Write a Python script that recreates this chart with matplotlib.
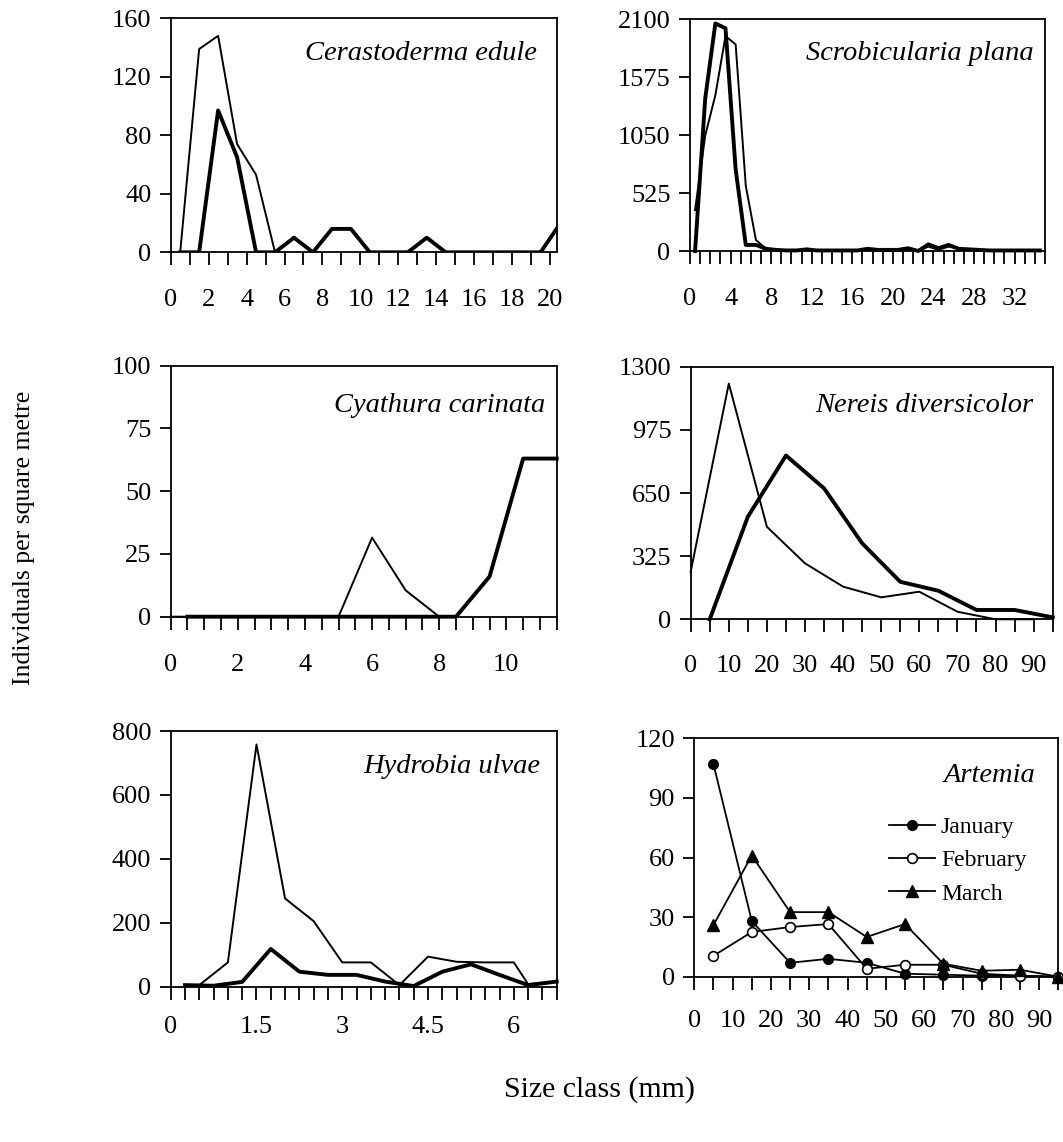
import matplotlib
matplotlib.use("Agg")
import matplotlib.pyplot as plt
import numpy as np

# ---------------- data ----------------
# Cerastoderma edule
cer_x = [0.5, 1.5, 2.5, 3.5, 4.5, 5.5, 6.5, 7.5, 8.5, 9.5, 10.5, 11.5, 12.5, 13.5,
         14.5, 15.5, 16.5, 17.5, 18.5, 19.5, 20.5]
cer_thin = [0, 139, 148, 74, 53, 0, 10, 0, 16, 16, 0, 0, 0, 10, 0, 0, 0, 0, 0, 0, 19]
cer_thick = [0, 0, 97, 65, 0, 0, 10, 0, 16, 16, 0, 0, 0, 10, 0, 0, 0, 0, 0, 0, 19]

# Scrobicularia plana
scr_x = [0.5, 1.5, 2.5, 3.5, 4.5, 5.5, 6.5, 7.5, 8.5, 9.5, 10.5, 11.5, 12.5, 13.5,
         14.5, 15.5, 16.5, 17.5, 18.5, 19.5, 20.5, 21.5, 22.5, 23.5, 24.5, 25.5,
         26.5, 27.5, 28.5, 29.5, 30.5, 31.5, 32.5, 33.5, 34.5]
scr_thick = [0, 1380, 2060, 2016, 740, 55, 55, 20, 10, 5, 5, 15, 5, 5, 5, 5, 5, 20,
             10, 10, 10, 25, 0, 60, 25, 55, 20, 15, 10, 5, 5, 5, 5, 5, 5]
scr_thin = [370, 1045, 1410, 1946, 1870, 590, 100, 20, 10, 5, 5, 15, 5, 5, 5, 5, 5, 20,
            10, 10, 10, 25, 0, 40, 10, 40, 20, 15, 10, 5, 5, 5, 5, 5, 5]

# Cyathura carinata
cya_thin_x = [0, 1, 2, 3, 4, 5, 6, 7, 8]
cya_thin = [0, 0, 0, 0, 0, 0, 31.5, 10.5, 0]
cya_thick_x = [0.5, 1.5, 2.5, 3.5, 4.5, 5.5, 6.5, 7.5, 8.5, 9.5, 10.5, 11.5]
cya_thick = [0, 0, 0, 0, 0, 0, 0, 0, 0, 16, 63, 63]

# Nereis diversicolor
ner_thin_x = [0, 10, 20, 30, 40, 50, 60, 70, 80, 90]
ner_thin = [245, 1213, 476, 288, 168, 113, 142, 39, 0, 0]
ner_thick_x = [5, 15, 25, 35, 45, 55, 65, 75, 85, 95]
ner_thick = [0, 528, 843, 674, 391, 193, 147, 48, 48, 10]

# Hydrobia ulvae
hyd_thin_x = [0.25, 0.5, 1.0, 1.5, 2.0, 2.5, 3.0, 3.5, 4.0, 4.5, 5.0, 5.5, 6.0, 6.25, 6.75]
hyd_thin = [5, 5, 76, 758, 276, 205, 76, 76, 5, 94, 78, 76, 76, 8, 16]
hyd_thick_x = [0.25, 0.75, 1.25, 1.75, 2.25, 2.75, 3.25, 3.75, 4.25, 4.75, 5.25, 5.75, 6.25, 6.75]
hyd_thick = [5, 3, 15, 118, 47, 37, 37, 16, 2, 47, 70, 37, 5, 16]

# Artemia
art_x = [5, 15, 25, 35, 45, 55, 65, 75, 85, 95]
art_jan = [107, 28, 7, 9, 7, 1.5, 1, 0.5, 0.5, 0]
art_feb = [10.5, 22.5, 25, 26.5, 4, 6, 6, 1.5, 0.5, 0]
art_mar = [26, 61, 32.5, 32.5, 20, 26.5, 6.5, 3, 3.5, 0]
months = ["January", "February", "March"]

titles = ["Cerastoderma edule", "Scrobicularia plana", "Cyathura carinata",
          "Nereis diversicolor", "Hydrobia ulvae", "Artemia"]

# ---------------- style ----------------
SERIF = ["Liberation Serif", "DejaVu Serif"]
plt.rcParams["font.family"] = SERIF
plt.rcParams["axes.linewidth"] = 1.3

W, H = 1063, 1142
fig = plt.figure(figsize=(W / 100, H / 100), dpi=100)

def rect(l, r, t, b):
    return [l / W, 1 - b / H, (r - l) / W, (b - t) / H]

boxes = [
    rect(170.7, 556.7, 18.3, 252.3),
    rect(690.0, 1045.0, 19.0, 251.0),
    rect(170.7, 556.7, 365.7, 616.7),
    rect(690.7, 1052.7, 366.7, 619.3),
    rect(170.7, 556.7, 731.0, 986.7),
    rect(694.3, 1058.3, 738.3, 976.7),
]
axes = [fig.add_axes(b) for b in boxes]

THIN, THICK = 1.4, 2.8
TFS = 19

def fmt(v):
    return ("%g" % v)

def setup(ax, xlim, xticks, xlabels_at, ylim, yticks, xpad, title, tx, ty):
    ax.set_xlim(*xlim)
    ax.set_ylim(*ylim)
    ax.set_xticks(xticks)
    labs = []
    for t in xticks:
        labs.append(fmt(t) if any(abs(t - a) < 1e-9 for a in xlabels_at) else "")
    ax.set_xticklabels(labs)
    ax.set_yticks(yticks)
    ax.set_yticklabels([fmt(v) for v in yticks])
    ax.tick_params(axis="x", direction="out", length=9, width=1.3, pad=xpad,
                   labelsize=TFS, top=False)
    ax.tick_params(axis="y", direction="out", length=8, width=1.3, pad=6,
                   labelsize=TFS, right=False)
    for s in ax.spines.values():
        s.set_linewidth(1.3)
    ax.text(tx, ty, title, transform=ax.transAxes, ha="right", va="center",
            fontsize=20.5, style="italic", family=SERIF)

# Panel 1
ax = axes[0]
ax.plot(cer_x, cer_thin, color="black", lw=THIN)
ax.plot(cer_x, cer_thick, color="black", lw=THICK)
setup(ax, (0, 20.35), list(range(0, 21)), list(range(0, 21, 2)), (0, 160),
      [0, 40, 80, 120, 160], 17.5, titles[0], 0.948, 0.85)

# Panel 2
ax = axes[1]
ax.plot(scr_x, scr_thin, color="black", lw=THIN, clip_on=False)
ax.plot(scr_x, scr_thick, color="black", lw=THICK, clip_on=False)
setup(ax, (0, 35), list(range(0, 36)), list(range(0, 33, 4)), (0, 2100),
      [0, 525, 1050, 1575, 2100], 17.5, titles[1], 0.967, 0.853)

# Panel 3
ax = axes[2]
ax.plot(cya_thin_x, cya_thin, color="black", lw=THIN, clip_on=False)
ax.plot(cya_thick_x, cya_thick, color="black", lw=THICK, clip_on=False)
setup(ax, (0, 11.5), list(np.arange(0, 11.51, 0.5)), [0, 2, 4, 6, 8, 10], (0, 100),
      [0, 25, 50, 75, 100], 17.5, titles[2], 0.97, 0.843)

# Panel 4
ax = axes[3]
ax.plot(ner_thin_x, ner_thin, color="black", lw=THIN, clip_on=False)
ax.plot(ner_thick_x, ner_thick, color="black", lw=THICK, clip_on=False)
setup(ax, (0, 95), list(range(0, 96, 5)), list(range(0, 91, 10)), (0, 1300),
      [0, 325, 650, 975, 1300], 16.5, titles[3], 0.946, 0.848)

# Panel 5
ax = axes[4]
ax.plot(hyd_thin_x, hyd_thin, color="black", lw=THIN, clip_on=False)
ax.plot(hyd_thick_x, hyd_thick, color="black", lw=THICK, clip_on=False)
setup(ax, (0, 6.75), list(np.arange(0, 6.751, 0.25)), [0, 1.5, 3, 4.5, 6], (0, 800),
      [0, 200, 400, 600, 800], 12, titles[4], 0.957, 0.86)

# Panel 6
ax = axes[5]
ax.plot(art_x, art_jan, color="black", lw=1.3, marker="o", ms=7,
        mfc="black", mec="black", label=months[0], clip_on=False, zorder=3)
ax.plot(art_x, art_feb, color="black", lw=1.3, marker="o", ms=7,
        mfc="white", mec="black", mew=1.2, label=months[1], clip_on=False, zorder=3)
ax.plot(art_x, art_mar, color="black", lw=1.3, marker="^", ms=8.5,
        mfc="black", mec="black", label=months[2], clip_on=False, zorder=3)
setup(ax, (0, 95), list(range(0, 96, 5)), list(range(0, 91, 10)), (0, 120),
      [0, 30, 60, 90, 120], 15, titles[5], 0.936, 0.846)
ax.legend(loc="upper left", bbox_to_anchor=(0.535, 0.672), frameon=False,
          fontsize=17, handlelength=1.95, handletextpad=0.25, labelspacing=0.5,
          borderpad=0, borderaxespad=0)

# axis titles
fig.text(24 / W, 1 - 538 / H, "Individuals per square metre", rotation=90,
         ha="center", va="center", fontsize=18.5)
fig.text(600 / W, 1 - 1090 / H, "Size class (mm)", ha="center", va="center",
         fontsize=21.5)

fig.savefig("out.png", dpi=100)
